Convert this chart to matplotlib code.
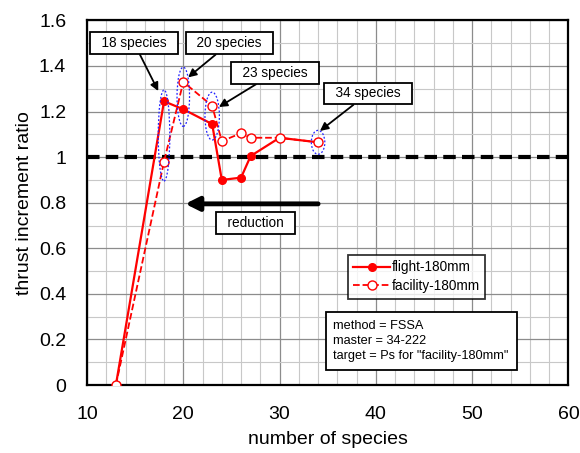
import matplotlib
matplotlib.use('Agg')
import matplotlib.pyplot as plt
import matplotlib.ticker as tck
from matplotlib.patches import Ellipse

plt.rcParams['font.family'] = ['Liberation Sans', 'DejaVu Sans']

species = [13, 18, 20, 23, 24, 26, 27, 30, 34]
flight = [0.0, 1.245, 1.21, 1.145, 0.90, 0.91, 1.005, 1.085, 1.065]
facility = [0.0, 0.98, 1.33, 1.225, 1.07, 1.105, 1.085, 1.085, 1.065]

notes = ["18 species", "20 species", "23 species", "34 species"]
note_xy = [(17.4, 1.29), (20.5, 1.35), (23.7, 1.22), (34.2, 1.115)]
note_text = [(14.9, 1.50), (24.8, 1.50), (29.5, 1.37), (39.2, 1.28)]
rings = [(18, 1.095, 1.2, 0.40), (20, 1.265, 1.3, 0.26), (23, 1.18, 1.5, 0.21), (34, 1.065, 1.4, 0.105)]

fig, ax = plt.subplots(figsize=(5.8, 4.53), dpi=100)
fig.subplots_adjust(left=0.15, right=0.98, top=0.955, bottom=0.15)

ax.set_xlim(10, 60)
ax.set_ylim(0, 1.6)
ax.xaxis.set_major_locator(tck.MultipleLocator(10))
ax.xaxis.set_minor_locator(tck.MultipleLocator(2))
ax.yaxis.set_major_locator(tck.MultipleLocator(0.2))
ax.yaxis.set_minor_locator(tck.MultipleLocator(0.1))
ax.yaxis.set_major_formatter(tck.FuncFormatter(lambda v, p: f"{v:g}"))
ax.grid(which='major', color='#8c8c8c', lw=0.9)
ax.grid(which='minor', color='#c8c8c8', lw=0.8)
ax.set_axisbelow(True)
ax.tick_params(which='both', length=0, labelsize=14, pad=15)
for s in ax.spines.values():
    s.set_linewidth(1.6)

ax.axhline(1.0, color='black', lw=3, ls=(0, (3, 1.5)), zorder=2)

ax.plot(species, flight, '-o', color='#ff0000', lw=1.6, ms=5.5, label='flight-180mm', zorder=4)
ax.plot(species, facility, '--o', color='#ff0000', lw=1.3, ms=6.5, mew=1.0, mfc='white',
        label='facility-180mm', zorder=4)

for x, y, w, h in rings:
    ax.add_patch(Ellipse((x, y), w, h, fill=False, ec='#2222ff', lw=0.9, ls=(0, (1.5, 1.5)), zorder=5))

# label boxes with arrows pointing at the marked points
for t, xy, txt in zip(notes, note_xy, note_text):
    ax.annotate('  ' + t + '  ', xy=xy, xytext=txt, fontsize=9.8, ha='center', va='center',
                bbox=dict(boxstyle='square,pad=0.28', fc='white', ec='black', lw=1.3),
                arrowprops=dict(arrowstyle='-|>', color='black', lw=1.3, mutation_scale=12,
                                shrinkA=0, shrinkB=0), zorder=6)

ax.annotate('', xy=(20.2, 0.795), xytext=(34, 0.795),
            arrowprops=dict(arrowstyle='-|>,head_length=0.9,head_width=0.45', color='black',
                            lw=3.5, mutation_scale=9, shrinkA=0, shrinkB=0))
ax.text(27.5, 0.712, '  reduction  ', fontsize=9.8, ha='center', va='center',
        bbox=dict(boxstyle='square,pad=0.3', fc='white', ec='black', lw=1.3))

leg = ax.legend(loc='upper left', bbox_to_anchor=(0.542, 0.357), fontsize=9.8, frameon=True,
                fancybox=False, edgecolor='black', handlelength=2.7, borderpad=0.4,
                labelspacing=0.35, handletextpad=0.1, borderaxespad=0)
leg.get_frame().set_linewidth(1.3)

ax.text(0.512, 0.062, 'method = FSSA\nmaster = 34-222\ntarget = Ps for "facility-180mm"',
        transform=ax.transAxes, fontsize=9.2, ha='left', va='bottom', linespacing=1.35,
        bbox=dict(boxstyle='square,pad=0.6', fc='white', ec='black', lw=1.3))

ax.set_xlabel('number of species', fontsize=14, labelpad=6)
ax.set_ylabel('thrust increment ratio', fontsize=14, labelpad=4)

plt.savefig('out.png', dpi=100)
